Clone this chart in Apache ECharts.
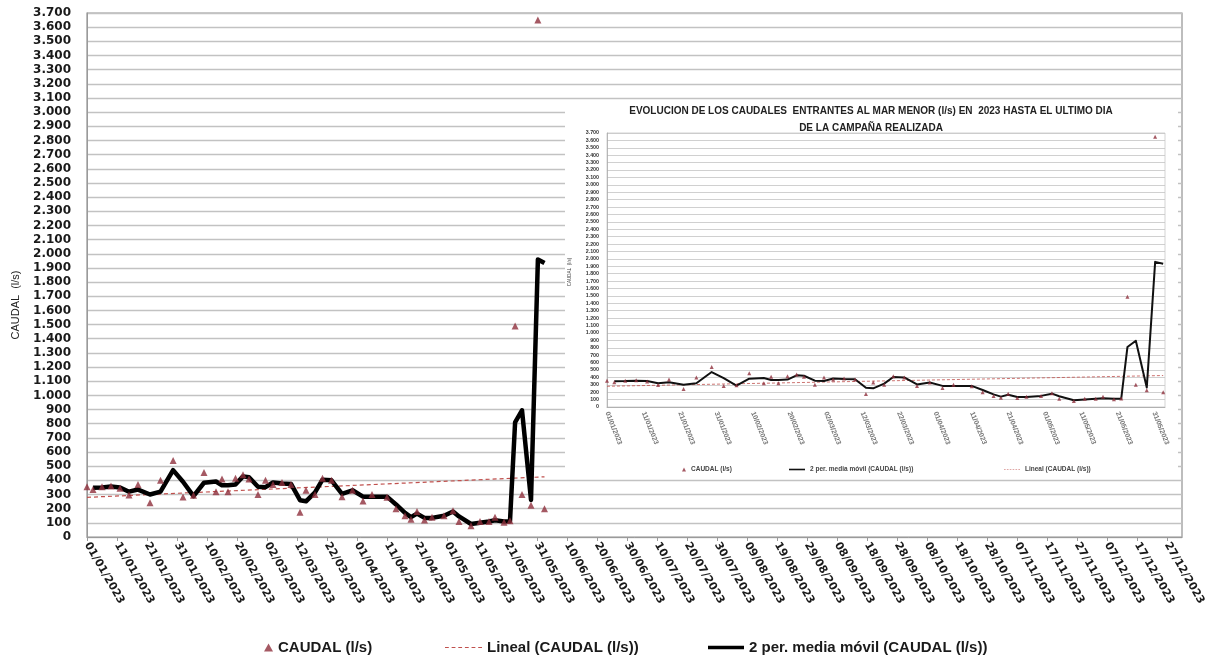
<!DOCTYPE html>
<html><head><meta charset="utf-8">
<script src="https://cdn.jsdelivr.net/npm/echarts@6/dist/echarts.min.js"></script>
<style>html,body{margin:0;padding:0;background:#fff}#c{width:1211px;height:662px}</style>
</head><body><div id="c"></div>
<script>
// Day offsets from 01/01/2023 of each measurement
const pointDays = [0, 2, 5, 8, 11, 14, 17, 21, 24.5, 28.7, 32, 35.5, 39, 43, 45, 47, 49.5, 52, 54, 57, 59.5, 62, 65, 68, 71, 73, 76, 78.5, 81.5, 85, 88.5, 92, 95, 100, 103, 106, 108, 110, 112.5, 115, 119, 122, 124, 128, 131, 134, 136, 139, 141, 142.7, 145, 148, 150.3, 152.5];
const pointValues = [355, 335, 355, 360, 345, 297, 370, 242, 400, 540, 282, 295, 455, 320, 410, 320, 415, 440, 410, 300, 400, 370, 385, 370, 175, 330, 300, 415, 400, 285, 330, 255, 300, 280, 200, 150, 125, 180, 120, 140, 150, 185, 110, 80, 110, 110, 140, 105, 115, 1490, 300, 225, 3650, 200];
const movingDays = [2, 5, 8, 11, 14, 17, 21, 24.5, 28.7, 32, 35.5, 39, 43, 45, 47, 49.5, 52, 54, 57, 59.5, 62, 65, 68, 71, 73, 76, 78.5, 81.5, 85, 88.5, 92, 95, 100, 103, 106, 108, 110, 112.5, 115, 119, 122, 124, 128, 131, 134, 136, 139, 141, 142.7, 145, 148, 150.3, 152.5];
const movingValues = [348, 350, 356, 350, 320, 335, 300, 320, 472, 390, 289, 383, 392, 365, 365, 370, 428, 422, 355, 352, 385, 378, 375, 260, 252, 315, 405, 400, 305, 330, 285, 285, 285, 230, 170, 140, 165, 135, 135, 150, 180, 145, 92, 100, 110, 118, 110, 112, 810, 895, 262, 1960, 1935];
const trendDays = [0, 152.5];
const trendValues = [280, 425];
const xTickLabels = ['01/01/2023','11/01/2023','21/01/2023','31/01/2023','10/02/2023','20/02/2023','02/03/2023','12/03/2023','22/03/2023','01/04/2023','11/04/2023','21/04/2023','01/05/2023','11/05/2023','21/05/2023','31/05/2023','10/06/2023','20/06/2023','30/06/2023','10/07/2023','20/07/2023','30/07/2023','09/08/2023','19/08/2023','29/08/2023','08/09/2023','18/09/2023','28/09/2023','08/10/2023','18/10/2023','28/10/2023','07/11/2023','17/11/2023','27/11/2023','07/12/2023','17/12/2023','27/12/2023'];
const insetTickLabels = xTickLabels.slice(0, 16);
const seriesNames = ['CAUDAL (l/s)', 'Lineal (CAUDAL (l/s))', '2 per. media móvil (CAUDAL (l/s))'];
const insetTitle = 'EVOLUCION DE LOS CAUDALES  ENTRANTES AL MAR MENOR (l/s) EN  2023 HASTA EL ULTIMO DIA\nDE LA CAMPAÑA REALIZADA';
const yAxisTitle = 'CAUDAL  (l/s)';

const pts = pointDays.map((d, i) => [d, pointValues[i]]);
const mov = movingDays.map((d, i) => [d, movingValues[i]]);
const trend = trendDays.map((d, i) => [d, trendValues[i]]);
const fmtY = v => v >= 1000 ? Math.floor(v / 1000) + '.' + String(v % 1000).padStart(3, '0') : String(v);

const dashIcon = 'path://M0 0H4V1H0Z M7 0H11V1H7Z M14 0H18V1H14Z M21 0H25V1H21Z M28 0H32V1H28Z M35 0H39V1H35Z';
const solidIcon = 'path://M0 0H10V1H0Z';
const trendColor = '#C0504D';
const chart = echarts.init(document.getElementById('c'), null, {renderer: 'canvas'});
const legendText = {fontFamily: 'Liberation Sans, Arial, sans-serif', fontWeight: 'bold', fontSize: 15, color: '#1a1a1a'};
const insetLegendText = {fontFamily: 'Liberation Sans, Arial, sans-serif', fontWeight: 'bold', fontSize: 6.5, color: '#444'};
chart.setOption({
  animation: false,
  backgroundColor: '#fff',
  title: [{
    text: insetTitle, left: 866, top: 98, textAlign: 'center',
    textStyle: {fontFamily: 'Liberation Sans, Arial, sans-serif', fontWeight: 'bold', fontSize: 10, lineHeight: 17, color: '#222'},
    z: 5
  }],
  graphic: [
    {type: 'rect', shape: {x: 565, y: 101, width: 613, height: 376}, style: {fill: '#fff'}, z: 1, silent: true},
    {type: 'text', x: 16, y: 305, rotation: Math.PI / 2, style: {text: yAxisTitle, fontFamily: 'Liberation Sans, Arial, sans-serif', fontSize: 11, fill: '#222', align: 'center', verticalAlign: 'middle'}},
    {type: 'text', x: 570, y: 272, rotation: Math.PI / 2, z: 5, style: {text: yAxisTitle, fontFamily: 'Liberation Sans, Arial, sans-serif', fontSize: 4.5, fill: '#444', align: 'center', verticalAlign: 'middle'}}
  ],
  legend: [
    {data: [{name: seriesNames[0], icon: 'triangle'}], left: 259, top: 635, itemWidth: 9, itemHeight: 8, textStyle: legendText, selectedMode: false},
    {data: [{name: seriesNames[1], icon: dashIcon, itemStyle: {color: trendColor, borderWidth: 0}}], left: 440, top: 635, itemWidth: 37, itemHeight: 2, textStyle: legendText, selectedMode: false},
    {data: [{name: seriesNames[2], icon: solidIcon, itemStyle: {color: '#000', borderWidth: 0}}], left: 703, top: 635, itemWidth: 36, itemHeight: 5, textStyle: legendText, selectedMode: false},
    {data: [{name: seriesNames[0], icon: 'triangle'}], left: 677, top: 461, itemWidth: 4, itemHeight: 4, textStyle: insetLegendText, selectedMode: false, z: 5},
    {data: [{name: seriesNames[2], icon: solidIcon, itemStyle: {color: '#111', borderWidth: 0}}], left: 784, top: 461, itemWidth: 16, itemHeight: 1.6, textStyle: insetLegendText, selectedMode: false, z: 5},
    {data: [{name: seriesNames[1], icon: dashIcon, itemStyle: {color: trendColor, borderWidth: 0}}], left: 999, top: 461, itemWidth: 16, itemHeight: 0.9, textStyle: insetLegendText, selectedMode: false, z: 5}
  ],
  grid: [
    {left: 87, right: 29, top: 13, bottom: 125, show: true, borderColor: '#929292', borderWidth: 1.2},
    {left: 607, right: 46, top: 133, bottom: 255, show: true, borderColor: '#c8c8c8', borderWidth: 0.8, z: 2}
  ],
  xAxis: [
    {gridIndex: 0, type: 'value', min: 0, max: 365, interval: 10,
     axisLine: {lineStyle: {color: '#9a9a9a'}}, axisTick: {length: 4, lineStyle: {color: '#9a9a9a'}},
     splitLine: {show: false},
     axisLabel: {rotate: -60, margin: 6, showMaxLabel: false, color: '#1a1a1a', fontFamily: 'DejaVu Sans, Verdana, sans-serif', fontWeight: 'bold', fontSize: 11,
       formatter: v => xTickLabels[Math.round(v / 10)] || ''}},
    {gridIndex: 1, type: 'value', min: 0, max: 153, interval: 10, z: 2,
     axisLine: {lineStyle: {color: '#aaa', width: 0.8}}, axisTick: {show: false},
     splitLine: {show: false},
     axisLabel: {rotate: -68, margin: 5, showMaxLabel: false, color: '#777', fontFamily: 'Liberation Sans, sans-serif', fontSize: 7, fontWeight: 'bold',
       formatter: v => insetTickLabels[Math.round(v / 10)] || ''}}
  ],
  yAxis: [
    {gridIndex: 0, type: 'value', min: 0, max: 3700, interval: 100,
     axisLine: {show: true, lineStyle: {color: '#9a9a9a'}}, axisTick: {show: false},
     splitLine: {lineStyle: {color: '#c2c2c2', width: 1.4}},
     axisLabel: {margin: 16, color: '#1a1a1a', fontFamily: 'DejaVu Sans, Verdana, sans-serif', fontWeight: 'bold', fontSize: 12, formatter: fmtY}},
    {gridIndex: 1, type: 'value', min: 0, max: 3700, interval: 100, z: 2,
     axisLine: {show: true, lineStyle: {color: '#aaa', width: 0.8}}, axisTick: {show: false},
     splitLine: {lineStyle: {color: '#c4c4c4', width: 0.8}},
     axisLabel: {margin: 8, color: '#333', fontFamily: 'Liberation Sans, sans-serif', fontSize: 5.3, fontWeight: 'bold', formatter: fmtY}}
  ],
  series: [
    {name: seriesNames[1], type: 'line', xAxisIndex: 0, yAxisIndex: 0, data: trend, symbol: 'none', z: 2,
     lineStyle: {color: trendColor, width: 1.2, type: [4, 3]}, itemStyle: {color: trendColor}},
    {name: seriesNames[2], type: 'line', xAxisIndex: 0, yAxisIndex: 0, data: mov, symbol: 'none', z: 3,
     lineStyle: {color: '#000', width: 4.5, join: 'round'}, itemStyle: {color: '#000'}},
    {name: seriesNames[0], type: 'scatter', xAxisIndex: 0, yAxisIndex: 0, data: pts, symbol: 'triangle', symbolSize: 7, z: 4,
     itemStyle: {color: '#8E2F3C'}},
    {name: seriesNames[1], type: 'line', xAxisIndex: 1, yAxisIndex: 1, data: trend, symbol: 'none', z: 3,
     lineStyle: {color: trendColor, width: 0.8, type: [3, 2]}, itemStyle: {color: trendColor}},
    {name: seriesNames[2], type: 'line', xAxisIndex: 1, yAxisIndex: 1, data: mov, symbol: 'none', z: 4,
     lineStyle: {color: '#111', width: 2, join: 'round'}, itemStyle: {color: '#111'}},
    {name: seriesNames[0], type: 'scatter', xAxisIndex: 1, yAxisIndex: 1, data: pts, symbol: 'triangle', symbolSize: 4, z: 5,
     itemStyle: {color: '#8E2F3C'}}
  ]
});
</script></body></html>
